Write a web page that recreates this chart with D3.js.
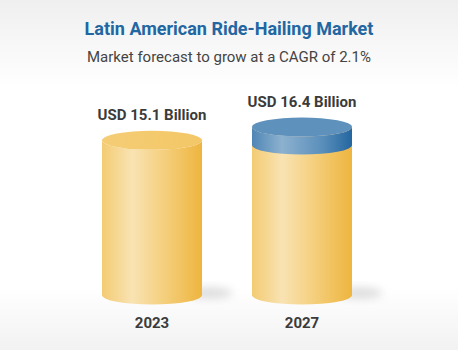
<!DOCTYPE html>
<html><head><meta charset="utf-8">
<script src="https://cdn.jsdelivr.net/npm/d3@7"></script>
<style>html,body{margin:0;padding:0;background:#fff;}svg{display:block;}</style>
</head><body>
<script>
const categories = ["2023", "2027"];
const values = [15.1, 16.4];
const valueLabels = ["USD 15.1 Billion", "USD 16.4 Billion"];
const titleText = "Latin American Ride-Hailing Market";
const subtitleText = "Market forecast to grow at a CAGR of 2.1%";

const W = 458, H = 350;
const svg = d3.select("body").append("svg").attr("width", W).attr("height", H);
const defs = svg.append("defs");

// background gradient
const bg = defs.append("linearGradient").attr("id","bg").attr("x1",0).attr("x2",0).attr("y1",0).attr("y2",1);
[[0,"#efefef"],[0.25,"#ffffff"],[0.82,"#ffffff"],[1,"#f2f2f2"]].forEach(([o,c])=>bg.append("stop").attr("offset",o).attr("stop-color",c));
svg.append("rect").attr("width",W).attr("height",H).attr("fill","url(#bg)");

const side = defs.append("linearGradient").attr("id","side").attr("x1",0).attr("x2",1).attr("y1",0).attr("y2",0);
[[0,"#f3cb72"],[0.3,"#f9e3b3"],[0.65,"#f4cd78"],[1,"#eeb53f"]].forEach(([o,c])=>side.append("stop").attr("offset",o).attr("stop-color",c));
const topG = defs.append("linearGradient").attr("id","topg").attr("x1",0).attr("x2",1).attr("y1",0).attr("y2",0);
[[0,"#f5cd76"],[1,"#f3c766"]].forEach(([o,c])=>topG.append("stop").attr("offset",o).attr("stop-color",c));
const bside = defs.append("linearGradient").attr("id","bside").attr("x1",0).attr("x2",1).attr("y1",0).attr("y2",0);
[[0,"#4f86b5"],[0.3,"#8db1cf"],[0.7,"#5a8fbb"],[1,"#2466a0"]].forEach(([o,c])=>bside.append("stop").attr("offset",o).attr("stop-color",c));
const blur = defs.append("filter").attr("id","blur").attr("x","-50%").attr("y","-50%").attr("width","200%").attr("height","200%");
blur.append("feGaussianBlur").attr("stdDeviation",4);

// titles
svg.append("text").attr("x",W/2).attr("y",35).attr("text-anchor","middle")
  .attr("font-family","Roboto").attr("font-weight","bold").attr("font-size",18).attr("fill","#2266a2").text(titleText);
svg.append("text").attr("x",W/2).attr("y",62).attr("text-anchor","middle")
  .attr("font-family","Roboto").attr("font-size",15).attr("fill","#444").text(subtitleText);

// scales
const x = d3.scaleBand().domain(categories).range([52, 402]).paddingInner(1/3).paddingOuter(1/3);
const baseY = 295;
const y = d3.scaleLinear().domain([0, 16.4]).range([baseY, 127]);
const ry = 9.5;
const capH = 18;

const data = categories.map((c,i)=>({c, v: values[i], label: valueLabels[i], last: i===categories.length-1}));

const g = svg.selectAll("g.bar").data(data).join("g").attr("class","bar");

// shadow
g.append("ellipse")
  .attr("cx", d=>x(d.c)+x.bandwidth()+8).attr("cy", baseY-2).attr("rx", 22).attr("ry", 6)
  .attr("fill","#c4c4c4").attr("opacity",0.55).attr("filter","url(#blur)");

function sidePath(x0, w, yTop, yBot){
  return `M${x0},${yTop} L${x0},${yBot} A${w/2},${ry} 0 0 0 ${x0+w},${yBot} L${x0+w},${yTop} A${w/2},${ry} 0 0 1 ${x0},${yTop} Z`;
}

g.append("path")
  .attr("d", d=>sidePath(x(d.c), x.bandwidth(), y(d.v), baseY))
  .attr("fill","url(#side)");

// top ellipse (yellow for non-last)
g.filter(d=>!d.last).append("ellipse")
  .attr("cx", d=>x(d.c)+x.bandwidth()/2).attr("cy", d=>y(d.v))
  .attr("rx", x.bandwidth()/2).attr("ry", ry).attr("fill","url(#topg)");

// blue cap for last
const cap = g.filter(d=>d.last);
cap.append("path")
  .attr("d", d=>sidePath(x(d.c), x.bandwidth(), y(d.v), y(d.v)+capH))
  .attr("fill","url(#bside)");
cap.append("ellipse")
  .attr("cx", d=>x(d.c)+x.bandwidth()/2).attr("cy", d=>y(d.v))
  .attr("rx", x.bandwidth()/2).attr("ry", ry).attr("fill","#5e91bb");

// value labels
g.append("text").attr("x", d=>x(d.c)+x.bandwidth()/2).attr("y", d=>y(d.v)-20)
  .attr("text-anchor","middle").attr("font-family","Roboto").attr("font-weight","bold")
  .attr("font-size",15).attr("fill","#3b3b3b").text(d=>d.label);

// category axis labels
const xAxis = svg.append("g").attr("transform",`translate(0,328)`)
  .call(d3.axisBottom(x).tickSize(0).tickPadding(0));
xAxis.select(".domain").remove();
xAxis.selectAll("text").attr("dy",0).attr("font-family","Roboto").attr("font-weight","bold")
  .attr("font-size",15).attr("fill","#3b3b3b");
</script>
</body></html>
